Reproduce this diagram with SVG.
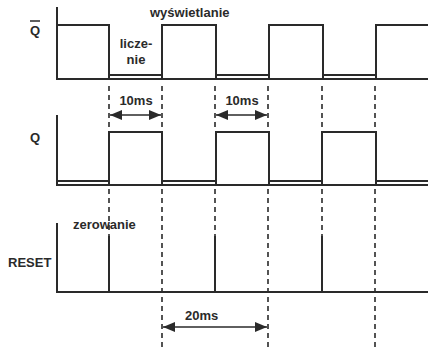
<svg xmlns="http://www.w3.org/2000/svg" width="428" height="347" viewBox="0 0 428 347">
<defs>
<style>
.sig{fill:none;stroke:#2a2a2a;stroke-width:2;stroke-linejoin:miter}
.dash{fill:none;stroke:#2a2a2a;stroke-width:1.6;stroke-dasharray:5,4}
.arr{fill:none;stroke:#2a2a2a;stroke-width:1.6}
.t{font-family:"Liberation Sans",Arial,sans-serif;font-size:13px;font-weight:bold;fill:#2a2a2a}
</style>
<marker id="ah" viewBox="0 0 12 10" refX="12" refY="5" markerWidth="12" markerHeight="10" markerUnits="userSpaceOnUse" orient="auto-start-reverse">
<path d="M0,0 L12,5 L0,10 Z" fill="#2a2a2a"/>
</marker>
</defs>
<rect width="428" height="347" fill="#ffffff"/>
<g id="connectors">
<path class="dash" d="M109,86 V130 M162,86 V130 M215,86 V130 M268,86 V130 M322,86 V130 M375,86 V130"/>
<path class="dash" d="M109,189 V236 M215,189 V236 M322,189 V236"/>
<path class="dash" d="M162,189 V347 M268,189 V347 M375,189 V347"/>
<line class="arr" x1="110" y1="115" x2="161" y2="115" marker-start="url(#ah)" marker-end="url(#ah)"/>
<line class="arr" x1="216" y1="115" x2="267" y2="115" marker-start="url(#ah)" marker-end="url(#ah)"/>
<line class="arr" x1="163" y1="327" x2="267" y2="327" marker-start="url(#ah)" marker-end="url(#ah)"/>
</g>
<g id="qbar">
<path class="sig" d="M57,7 V79 H428"/>
<path class="sig" d="M57,25 H109 V75 H162 V25 H216 V75 H269 V25 H323 V75 H376 V25 H428"/>
<path class="sig" d="M109,75 V79 M162,75 V79 M216,75 V79 M269,75 V79 M323,75 V79 M376,75 V79"/>
<text class="t" x="30" y="35">Q</text>
<line x1="30" y1="21" x2="40" y2="21" stroke="#2a2a2a" stroke-width="1.5"/>
</g>
<g id="q">
<path class="sig" d="M57,115 V185 H428"/>
<path class="sig" d="M57,181 H109 V132 H162 V181 H216 V132 H269 V181 H322 V132 H376 V181 H428"/>
<path class="sig" d="M109,181 V185 M162,181 V185 M216,181 V185 M269,181 V185 M322,181 V185 M376,181 V185"/>
<text class="t" x="30" y="142">Q</text>
</g>
<g id="reset">
<path class="sig" d="M57,223 V292 H428"/>
<path class="sig" d="M109,236 V292 M215,236 V292 M322,236 V292"/>
<text class="t" x="8" y="267">RESET</text>
</g>
<g id="labels">
<text class="t" x="150" y="17">wyświetlanie</text>
<text class="t" x="136" y="48" text-anchor="middle">licze-</text>
<text class="t" x="136" y="64" text-anchor="middle">nie</text>
<text class="t" x="136" y="105" text-anchor="middle">10ms</text>
<text class="t" x="242" y="105" text-anchor="middle">10ms</text>
<text class="t" x="73" y="229">zerowanie</text>
<text class="t" x="185" y="320">20ms</text>
</g>
</svg>
